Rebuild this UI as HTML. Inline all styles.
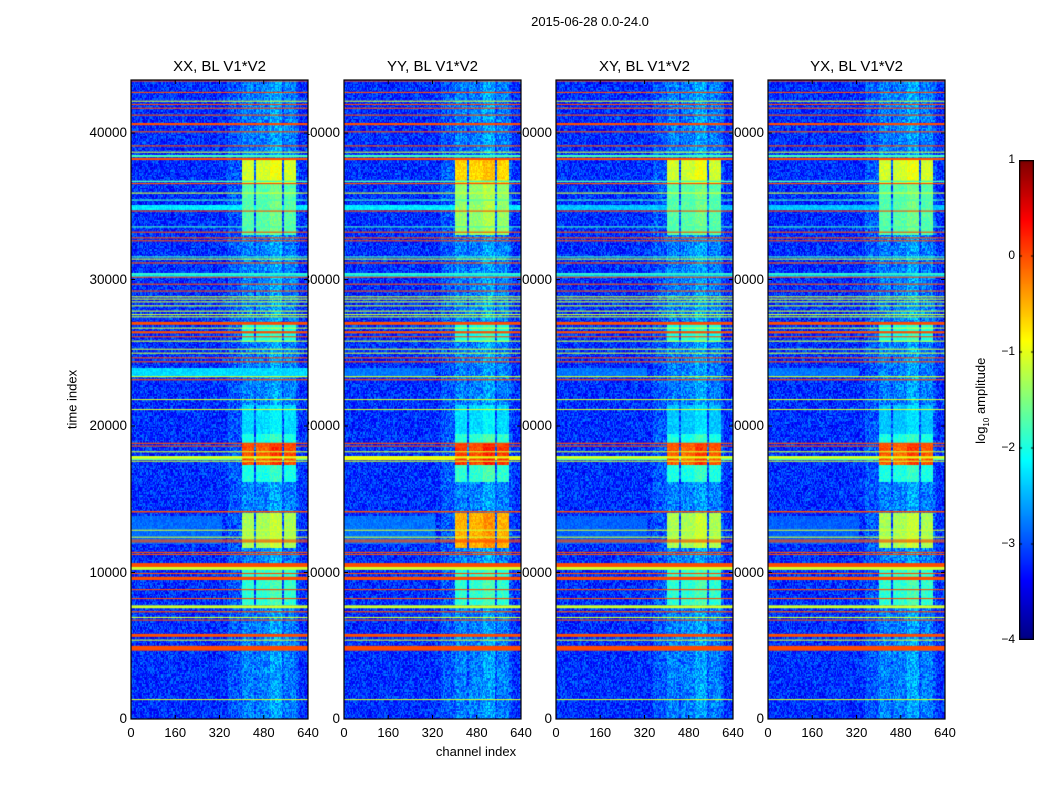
<!DOCTYPE html>
<html><head><meta charset="utf-8">
<style>
body{margin:0;background:#fff;width:1050px;height:800px;position:relative;overflow:hidden;font-family:"Liberation Sans",sans-serif;color:#000}
.t{position:absolute;white-space:nowrap;font-size:13px}
canvas{position:absolute}
</style></head><body>
<div class="t" style="left:490px;top:14px;width:200px;text-align:center">2015-06-28 0.0-24.0</div>
<div class="t" style="left:400px;top:744px;width:152px;text-align:center">channel index</div>
<div class="t" style="left:22px;top:392px;width:100px;text-align:center;transform:rotate(-90deg)">time index</div>
<div class="t" style="left:922px;top:392px;width:120px;text-align:center;transform:rotate(-90deg)">log<sub style="font-size:8px">10</sub> amplitude</div>
<div id="root"></div>
<script>
// ---- data ----
const panelTitles = ["XX, BL V1*V2","YY, BL V1*V2","XY, BL V1*V2","YX, BL V1*V2"];
const xTicks = [0,160,320,480,640];
const yTicks = [0,10000,20000,30000,40000];
const cbTicks = [-4,-3,-2,-1,0,1];
const stripeTimes = [43560,42780,42180,41960,41700,41230,40610,40090,39130,38700,38430,38230,36700,36550,35900,35430,34680,33600,33240,32850,32650,31550,31400,31130,30380,30170,29690,29220,28830,28670,28480,28210,27850,27620,27460,27010,26690,26400,26100,25800,25250,24980,24660,24390,23370,23160,21820,21140,18820,18640,18250,17860,17610,14150,12900,12420,12220,12100,11380,11240,10510,10280,9940,9600,8840,8230,7660,7320,6940,6760,5710,5390,4830,1340];
const stripeLevels = [0,0,-1.1,0,0,0,0,0,0,-1.1,-1.8,0,-1.8,0,-1.1,-1.8,0,-1.8,0,0,0,-1.8,-1.1,0,-1.8,0,0,0,-1.1,-1.1,-1.1,-1.1,-1.1,-1.1,-1.1,0,-1.1,0,0,-1.1,-1.1,-1.1,0,0,-1.1,0,-1.1,-1.1,0,0,-1.1,-1.0,-1.1,0,-1.1,-1.1,0,0,0,0,0,-1.1,0,0,0,0,-1.1,0,-1.1,0,0,-1.1,0,-1.1];
const stripeWidths = [60,60,60,60,60,60,150,60,60,60,150,150,100,80,80,60,60,60,60,60,60,60,60,80,100,60,60,60,60,60,60,60,60,60,60,200,60,150,60,60,60,60,60,60,80,80,50,50,80,60,60,150,50,100,50,60,60,60,60,60,270,200,60,220,60,60,200,80,60,60,200,60,330,50];
const bandStart = [34800,23400,17700,12000,30250];
const bandEnd   = [35100,24000,18000,13900,30500];
const bandLevel = [[-2.2,-2.2,-2.4,-2.4],[-2.3,-2.8,-2.8,-2.8],[-1.6,-0.9,-1.7,-1.7],[-2.85,-2.8,-2.9,-2.9],[-2.3,-2.3,-2.4,-2.4]];
const colStart = [405,454,506,557];
const colEnd   = [448,503,550,600];
const blockStart = [36600,33100,25800,16200,17400,11700,7800,19500];
const blockEnd   = [38300,36600,27000,19500,18900,14150,10500,21500];
const blockLevel = [[-1.1,-0.7,-1.1,-1.1],[-1.7,-1.4,-1.7,-1.7],[-2.0,-2.0,-2.0,-2.0],[-2.0,-1.9,-2.0,-2.0],[0.0,0.1,-0.05,-0.05],[-1.3,-0.5,-1.3,-1.3],[-1.9,-1.9,-1.9,-1.9],[-2.3,-2.3,-2.4,-2.4]];
const baseLevel = -3.15, rfiFloor = -2.95;
// ---- layout ----
const panelLeft=[131,344,556,768], PW=177, PT=80, PH=639, TMAX=43620, CMAX=640;
function jet(v){let t=(v+4)/5;t=Math.max(0,Math.min(1,t));
 const f=(a)=>Math.max(0,Math.min(1,a));
 const r=f(1.5-Math.abs(4*t-3)),g=f(1.5-Math.abs(4*t-2)),b=f(1.5-Math.abs(4*t-1));
 return `rgb(${r*255|0},${g*255|0},${b*255|0})`;}
function hash(a,b){let h=(a*374761393+b*668265263)|0;h=(h^(h>>>13))*1274126177|0;return ((h^(h>>>16))>>>0)/4294967295;}
const root=document.getElementById('root');
function txt(name,s,x,y,w,align,fs){const d=document.createElement('div');d.className='t';
 
 
 d.textContent=s;d.style.left=x+'px';d.style.top=y+'px';d.style.width=w+'px';d.style.textAlign=align;if(fs)d.style.fontSize=fs+'px';root.appendChild(d);return d;}
panelTitles.forEach((title,p)=>{
 const L=panelLeft[p];
 const xs=c=>c/CMAX*PW, ys=t=>PH-t/TMAX*PH;
 txt('panel-title',title,L-20,58,PW+40,'center',15);
 yTicks.forEach(v=>txt('y-tick-label',String(v),L-64,PT+ys(v)-8,60,'right',13.5));
 xTicks.forEach(v=>txt('x-tick-label',String(v),L+xs(v)-30,725,60,'center'));
 const cv=document.createElement('canvas');
 
 
 cv.width=PW;cv.height=PH;cv.style.left=L+'px';cv.style.top=PT+'px';cv.style.zIndex=2;root.appendChild(cv);
 const g=cv.getContext('2d');
 const CB=4,TB=100;
 for(let ti=0;ti*TB<TMAX;ti++){
  const t=ti*TB+50;
  let band=null;bandStart.forEach((s,i)=>{if(t>=s&&t<bandEnd[i])band=bandLevel[i][p];});
  let blk=null;blockStart.forEach((s,i)=>{if(t>=s&&t<blockEnd[i])blk=(blk===null?blockLevel[i][p]:Math.max(blk,blockLevel[i][p]));});
  const y0=Math.floor(ys(ti*TB+TB)),y1=Math.ceil(ys(ti*TB));
  for(let ci=0;ci*CB<CMAX;ci++){
   const c=ci*CB+2, n=hash(ci+p*1000,ti)-0.5;
   let v=baseLevel+n*0.8;
   if(band!==null&&!(band<-2.4&&c>330))v=Math.max(v,band+n*0.3);
   if(c>350&&c<610)v=Math.max(v,rfiFloor+n*0.8);
   let inCol=-1;colStart.forEach((s,i)=>{if(c>=s&&c<colEnd[i])inCol=i;});
   if(inCol>=0){v=Math.max(v,-2.75+n*0.8+(inCol===2?0.2:0));
    if(blk!==null)v=Math.max(v,blk+n*0.35+(inCol===2?0.15:0)-(blk>-0.5&&inCol===1?0.1:0));}
   g.fillStyle=jet(v);
   g.fillRect(Math.floor(xs(ci*CB)),y0,Math.ceil(xs(CB))+1,y1-y0);
  }
 }
 stripeTimes.forEach((t,i)=>{
  const a=ys(t+stripeWidths[i]/2),b=ys(t-stripeWidths[i]/2);
  g.fillStyle=jet(stripeLevels[i]);
  g.fillRect(0,a,PW,Math.max(1.1,b-a));
 });
 const ns='http://www.w3.org/2000/svg';
 const sv=document.createElementNS(ns,'svg');
 
 
 sv.setAttribute('width',PW+2);sv.setAttribute('height',PH+2);
 sv.style.cssText=`position:absolute;left:${L-1}px;top:${PT-1}px;z-index:3`;
 let s=`<rect x="1" y="1" width="${PW}" height="${PH}" fill="none" stroke="#000" stroke-width="1.2"/>`;
 xTicks.forEach(v=>{const x=1+xs(v);s+=`<line x1="${x}" x2="${x}" y1="${PH+1}" y2="${PH-3}" stroke="#000"/><line x1="${x}" x2="${x}" y1="1" y2="5" stroke="#000"/>`;});
 yTicks.forEach(v=>{const y=1+ys(v);s+=`<line x1="1" x2="5" y1="${y}" y2="${y}" stroke="#000"/><line x1="${PW+1}" x2="${PW-3}" y1="${y}" y2="${y}" stroke="#000"/>`;});
 sv.innerHTML=s;root.appendChild(sv);
});
(function(){
 const cv=document.createElement('canvas');
 
 
 cv.width=15;cv.height=480;cv.style.left='1019px';cv.style.top='160px';root.appendChild(cv);
 const g=cv.getContext('2d');
 for(let y=0;y<480;y++){g.fillStyle=jet(1-y/480*5);g.fillRect(0,y,15,1);}
 g.strokeStyle='#000';g.lineWidth=1.5;g.strokeRect(0.5,0.5,14,479);
 cbTicks.forEach(v=>{const y=160+(1-v)/5*480;
  txt('colorbar-tick-label',(v<0?'\u2212':'')+Math.abs(v),975,y-8,40,'right',12);
  g.fillStyle='#000';g.fillRect(0,(1-v)/5*480-0.5,3,1);g.fillRect(12,(1-v)/5*480-0.5,3,1);});
})();
</script>
</body></html>
